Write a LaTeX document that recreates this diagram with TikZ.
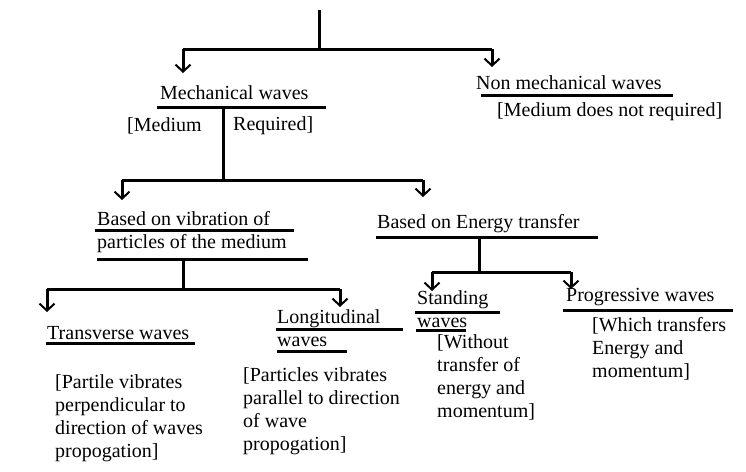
\documentclass[tikz,border=0pt]{standalone}
\usepackage{fontspec}
\setmainfont{Liberation Serif}
\usetikzlibrary{arrows.meta}
\begin{document}
\begin{tikzpicture}[x=1pt,y=-1pt,
  ln/.style={line width=3pt},
  ar/.style={line width=3pt,-{Straight Barb[length=7pt,width=15pt,line width=2pt]}},
  ul/.style={line width=3pt},
  txt/.style={anchor=west,inner sep=0pt,font=\fontsize{20}{23}\selectfont,align=left}]
\useasboundingbox (0,0) rectangle (746,471);
% top
\coordinate (t0) at (319,10); \coordinate (t1) at (319,49);
\coordinate (tl) at (183,49); \coordinate (tr) at (492,49);
\draw[ln] (t0)--(t1);
\draw[ln] (tl)--(tr);
\node[txt] (mech) at (160,93) {Mechanical waves};
\node[txt] (nonmech) at (476,83) {Non mechanical waves};
\draw[ar] (tl)--(183,73);
\draw[ar] (tr)--(492,67);
\draw[ul] (157,107)--(326,107);
\draw[ul] (481,95)--(673,95);
\node[txt] (medreq1) at (127,126) {[Medium};
\node[txt] (medreq2) at (233,126) {Required]};
\node[txt] (mednot) at (497,112) {[Medium does not required]};
% mechanical branch
\coordinate (m0) at (223,107); \coordinate (m1) at (223,180);
\coordinate (ml) at (122,180); \coordinate (mr) at (423,180);
\draw[ln] (m0)--(m1);
\draw[ln] (ml)--(mr);
\draw[ar] (ml)--(122,200);
\draw[ar] (mr)--(423,197);
\node[txt] (vib) at (97,232) {Based on vibration of\\particles of the medium};
\draw[ul] (95,230)--(294,230);
\draw[ul] (97,259)--(308,259);
\node[txt] (energy) at (377,224) {Based on Energy transfer};
\draw[ul] (376,237)--(598,237);
% vibration branch
\coordinate (v0) at (183,259); \coordinate (v1) at (183,289);
\coordinate (vl) at (47,289); \coordinate (vr) at (340,289);
\draw[ln] (v0)--(v1);
\draw[ln] (vl)--(vr);
\draw[ar] (vl)--(47,312);
\draw[ar] (vr)--(340,307);
\node[txt] (trans) at (47,333) {Transverse waves};
\draw[ul] (46,343)--(195,343);
\node[txt] (long) at (277,328) {Longitudinal\\waves};
\draw[ul] (276,329)--(403,329);
\draw[ul] (277,351)--(347,351);
\node[txt] (transd) at (55,418) {[Partile vibrates\\perpendicular to\\direction of waves\\propogation]};
\node[txt] (longd) at (243,411) {[Particles vibrates\\parallel to direction\\of wave\\propogation]};
% energy branch
\coordinate (e0) at (479,237); \coordinate (e1) at (479,272);
\coordinate (el) at (432,272); \coordinate (er) at (571,272);
\draw[ln] (e0)--(e1);
\draw[ln] (el)--(er);
\draw[ar] (el)--(432,291);
\draw[ar] (er)--(571,289);
\node[txt] (stand) at (417,309) {Standing\\waves};
\draw[ul] (415,312)--(500,312);
\draw[ul] (416,330)--(466,330);
\node[txt] (standd) at (437,377) {[Without\\transfer of\\energy and\\momentum]};
\node[txt] (prog) at (566,297) {Progressive waves};
\draw[ul] (563,310)--(733,310);
\node[txt] (progd) at (592,349) {[Which transfers\\Energy and\\momentum]};
\end{tikzpicture}
\end{document}
